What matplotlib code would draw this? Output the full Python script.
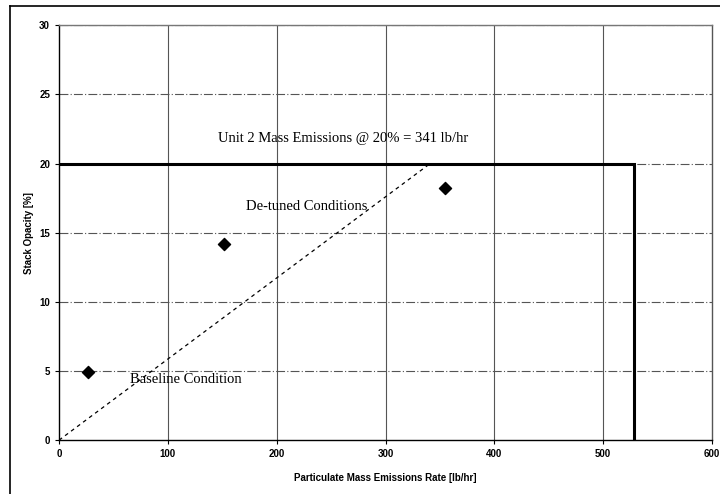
import matplotlib.pyplot as plt
from matplotlib.lines import Line2D

# measured points
emissions = [27, 152, 355]
opacity = [4.9, 14.2, 18.2]

# 20% opacity line and limit box
trend_x = [0, 341]
trend_y = [0, 20]
limit_x = [0, 528, 528]
limit_y = [20, 20, 0]

plt.rcParams['font.family'] = ['Liberation Sans', 'DejaVu Sans']

fig = plt.figure(figsize=(7.2, 4.94), dpi=100)
ax = fig.add_axes([0.082, 0.109, 0.907, 0.84])

# scanned page frame: left and top edges only
fig.lines.append(Line2D([0.014, 0.014], [0.0, 0.988], transform=fig.transFigure,
                        color='black', linewidth=1.2))
fig.lines.append(Line2D([0.014, 1.0], [0.988, 0.988], transform=fig.transFigure,
                        color='black', linewidth=1.2))

ax.set_xlim(0, 600)
ax.set_ylim(0, 30)
ax.set_xticks(range(0, 601, 100))
ax.set_yticks(range(0, 31, 5))

for x in range(100, 600, 100):
    ax.axvline(x, color='#555555', linewidth=0.8, zorder=0)
for y in range(5, 31, 5):
    ax.axhline(y, color='#555555', linewidth=0.8, linestyle=(0, (8, 2, 1, 2)), zorder=0)

ax.plot(trend_x, trend_y, color='black', linestyle=(0, (3, 3)), linewidth=0.9)
ax.plot(limit_x, limit_y, color='black', linewidth=2.2, solid_joinstyle='miter')
ax.scatter(emissions, opacity, marker='D', s=38, color='black', zorder=3)

ax.text(261, 21.8, 'Unit 2 Mass Emissions @ 20% = 341 lb/hr', family='Liberation Serif',
        fontsize=10.5, ha='center', va='center')
ax.text(172, 16.9, 'De-tuned Conditions', family='Liberation Serif',
        fontsize=10.5, ha='left', va='center')
ax.text(65, 4.4, 'Baseline Condition', family='Liberation Serif',
        fontsize=10.5, ha='left', va='center')

ax.set_xlabel('Particulate Mass Emissions Rate [lb/hr]', fontsize=7, fontweight='bold', labelpad=10)
ax.set_ylabel('Stack Opacity [%]', fontsize=7, fontweight='bold', labelpad=4)
ax.tick_params(labelsize=7, length=3, width=0.8)
for lab in ax.get_xticklabels() + ax.get_yticklabels():
    lab.set_fontweight('bold')
for s in ax.spines.values():
    s.set_linewidth(1.0)
ax.spines['top'].set_color('#777777')
ax.spines['right'].set_color('#555555')

fig.savefig('out.png', dpi=100)
